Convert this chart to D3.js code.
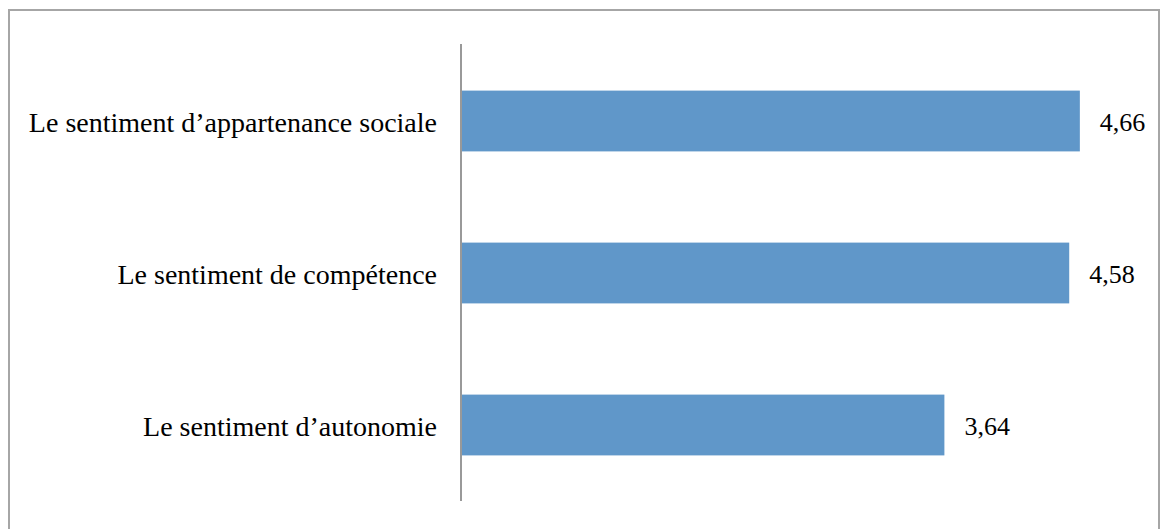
<!DOCTYPE html>
<html>
<head>
<meta charset="utf-8">
<script src="https://cdn.jsdelivr.net/npm/d3@7"></script>
<style>
  body { margin: 0; background: #fff; }
  text { font-family: "Liberation Serif", "Times New Roman", serif; }
</style>
</head>
<body>
<div id="chart"></div>
<script>
// bar chart of the 3 sentiments
let categories = ["Le sentiment d\u2019appartenance sociale", "Le sentiment de comp\u00e9tence", "Le sentiment d\u2019autonomie"];
let values = [4.66, 4.58, 3.64];
let valueLabels = ["4,66", "4,58", "3,64"];

let width = 1160, height = 529;
let fontFam = "'Liberation Serif', 'Times New Roman', serif";

let svg = d3.select("#chart")
    .append("svg")
    .attr("width", width)
    .attr("height", height);

// outer frame
svg.append("rect")
    .attr("x", 9)
    .attr("y", 10)
    .attr("width", 1150)
    .attr("height", 540)
    .attr("fill", "none")
    .attr("stroke", "#a6a6a6")
    .attr("stroke-width", 2);

let x = d3.scaleLinear()
    .domain([0, 5])
    .range([461, 461 + 664]);

let y = d3.scaleBand()
    .domain(categories)
    .range([45, 501])
    .paddingInner(0.6)
    .paddingOuter(0.3);

svg.selectAll(".bar")
    .data(values)
    .enter()
    .append("rect")
    .attr("class", "bar")
    .attr("x", x(0))
    .attr("y", (d, i) => y(categories[i]))
    .attr("width", d => x(d) - x(0))
    .attr("height", y.bandwidth())
    .attr("fill", "#6097c9");

// value labels
svg.selectAll(".val")
    .data(values)
    .enter()
    .append("text")
    .attr("class", "val")
    .attr("x", d => x(d) + 20)
    .attr("y", (d, i) => y(categories[i]) + y.bandwidth() / 2)
    .attr("dy", "0.38em")
    .attr("font-size", 26)
    .style("font-family", fontFam)
    .attr("fill", "#000")
    .text((d, i) => valueLabels[i]);

// category axis
let yAxis = d3.axisLeft(y).tickSize(0).tickPadding(24);
let ag = svg.append("g")
    .attr("transform", "translate(" + x(0) + ",0)")
    .call(yAxis);
ag.select(".domain").remove();
ag.selectAll("text")
    .attr("font-size", 28)
    .attr("dy", "0.38em")
    .attr("fill", "#000")
    .style("font-family", fontFam);

svg.append("line")
    .attr("x1", x(0))
    .attr("x2", x(0))
    .attr("y1", 44)
    .attr("y2", 501)
    .attr("stroke", "#999")
    .attr("stroke-width", 2);
</script>
</body>
</html>
